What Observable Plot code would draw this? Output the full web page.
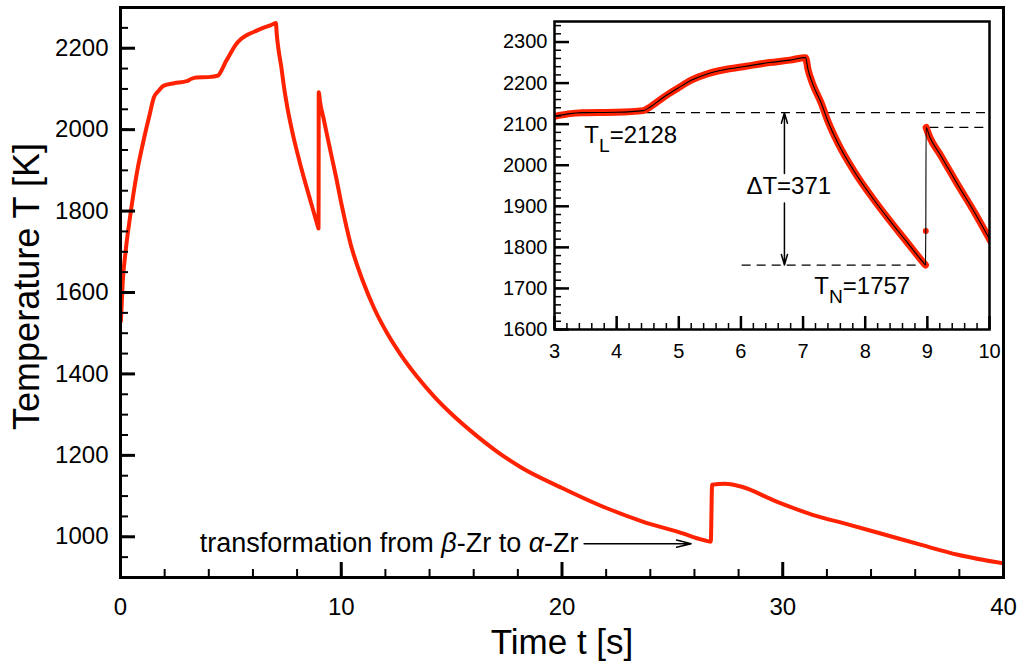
<!DOCTYPE html>
<html>
<head>
<meta charset="utf-8">
<script src="https://cdn.jsdelivr.net/npm/d3@7"></script>
<script src="https://cdn.jsdelivr.net/npm/@observablehq/plot@0.6"></script>
<style>
  html, body { margin: 0; padding: 0; background: #fff; }
  #chart { position: relative; width: 1017px; height: 662px; overflow: hidden; }
  #chart svg { position: absolute; left: 0; top: 0; }
</style>
</head>
<body>
<div id="chart"></div>
<script>
// Temperature–time profile of a levitated Zr sample: heating, melting plateau,
// undercooling, recalescence and the solid-state beta -> alpha transformation.
const timeS = [0.02, 0.10, 0.23, 0.45, 0.76, 1.06, 1.33, 1.51, 1.74, 1.96, 2.42,
  3.00, 3.22, 3.44, 3.99, 4.43, 4.54, 4.76, 4.98, 5.20, 5.47, 5.75, 6.08, 6.46, 6.79, 7.04,
  7.08, 7.15, 7.29, 7.40, 7.56, 7.84, 8.11, 8.38, 8.66, 8.93, 8.97, 8.975, 8.98,
  9.04, 9.21, 9.48, 9.76, 10.03, 10.42, 11.0, 11.5, 12.08, 12.7, 13.44, 14.2, 14.95,
  16.0, 17.04, 18.19, 20.0, 21.81, 23.62, 25.43, 26.41, 26.74, 26.80, 27.4, 28.06,
  29.7, 31.35, 32.99, 34.64, 36.28, 37.93, 39.98];
const tempK = [1530, 1625, 1700, 1792, 1899, 1977, 2039, 2079, 2096, 2108, 2114,
  2119, 2125, 2128, 2129, 2133, 2142, 2166, 2187, 2207, 2223, 2233, 2241, 2250, 2256, 2262,
  2233, 2200, 2152, 2107, 2054, 1981, 1922, 1868, 1815, 1764, 1757, 1840, 2092,
  2068, 2025, 1955, 1885, 1812, 1720, 1625, 1560, 1500, 1447, 1393, 1345, 1304,
  1254, 1210, 1169, 1120, 1075, 1038, 1009, 992, 988, 1128, 1130, 1124,
  1087, 1054, 1030, 1005, 980, 956, 935];

// Characteristic temperatures (K)
const T_L = 2128;        // liquidus
const T_N = 1757;        // nucleation
const T_R = 2092;        // peak after recalescence
const tNucleation = 8.97;

// Main axes ticks
const mainXMajor = [0, 10, 20, 30, 40];
const mainXMinor = d3.range(0, 41, 2);
const mainYMajor = [1000, 1200, 1400, 1600, 1800, 2000, 2200];
const mainYMinor = d3.range(900, 2301, 50);

// Inset axes ticks
const insetXMajor = [3, 4, 5, 6, 7, 8, 9, 10];
const insetXMinor = d3.range(30, 101, 2).map(d => d / 10);
const insetYMajor = [1600, 1700, 1800, 1900, 2000, 2100, 2200, 2300];
const insetYMinor = d3.range(1600, 2351, 20);

// Annotation anchors (data coordinates)
const transformNote = {t: 20.75, T: 983, text: "transformation from *β*-Zr to *α*-Zr"};
const transformArrow = {x1: 21.0, x2: 25.85, y: 983};
const deltaArrowT = 6.70;
const levelNotes = [
  {t: 3.48, T: 2074, text: `T_{L}=${T_L}`},
  {t: 7.18, T: 1704, text: `T_{N}=${T_N}`}
];
const deltaNote = {t: 6.77, T: 1948, text: `ΔT=${T_L - T_N}`};
const insetRules = [
  {y: T_L, x1: 4.48, x2: 10},
  {y: T_N, x1: 6.02, x2: 8.88},
  {y: T_R, x1: 9.04, x2: 10}
];
const deltaArrows = [
  {x: deltaArrowT, from: 1980, to: T_L},
  {x: deltaArrowT, from: 1908, to: T_N}
];

const FONT = "'Liberation Sans', Arial, Helvetica, sans-serif";
const RED = "#ff2200";

const rows = timeS.map((t, i) => ({t, T: tempK[i]}));
const insetRows = rows.filter(d => d.t >= 2.9 && d.t <= 10.2);
const midRecalescence = insetRows.filter(d => d.t > tNucleation && d.t < tNucleation + 0.01);
const bandRows = insetRows
  .filter(d => !midRecalescence.includes(d))
  .map(d => ({...d, phase: d.t <= tNucleation ? "undercooling" : "recalescence"}));

const fmt = d => String(d);

const main = Plot.plot({
  width: 1017, height: 662,
  marginLeft: 120, marginRight: 14, marginTop: 7, marginBottom: 85,
  style: {fontFamily: FONT, background: "transparent", color: "black"},
  x: {domain: [0, 40], axis: null},
  y: {domain: [900, 2300], axis: null},
  marks: [
    Plot.line(rows, {x: "t", y: "T", stroke: RED, strokeWidth: 4, curve: "monotone-x",
      strokeLinejoin: "round", clip: true}),
    Plot.axisX({ticks: mainXMinor, tickSize: 8, dy: -8, fill: "none", strokeWidth: 2}),
    Plot.axisX({ticks: mainXMajor, tickSize: 15, dy: -15, fill: "none", strokeWidth: 3}),
    Plot.axisX({ticks: mainXMajor, tickSize: 0, tickPadding: 20, fontSize: 24, tickFormat: fmt, label: null}),
    Plot.axisY({ticks: mainYMinor, tickSize: 8, dx: 8, fill: "none", strokeWidth: 2}),
    Plot.axisY({ticks: mainYMajor, tickSize: 15, dx: 15, fill: "none", strokeWidth: 3}),
    Plot.axisY({ticks: mainYMajor, tickSize: 0, tickPadding: 12, fontSize: 24, tickFormat: fmt, label: null}),
    Plot.frame({stroke: "black", strokeWidth: 3}),
    Plot.arrow([transformArrow], {x1: "x1", x2: "x2", y1: "y", y2: "y", stroke: "black",
      strokeWidth: 1.5, headLength: 15, headAngle: 28}),
    Plot.text([transformNote], {x: "t", y: "T", text: "text", textAnchor: "end", fontSize: 27}),
    Plot.text(["Time t [s]"], {frameAnchor: "bottom", textAnchor: "middle", lineAnchor: "middle",
      dy: 65, fontSize: 35}),
    Plot.text(["Temperature T [K]"], {frameAnchor: "left", textAnchor: "middle", lineAnchor: "middle",
      dx: -93, dy: -6, rotate: -90, fontSize: 36})
  ]
});

const inset = Plot.plot({
  width: 530, height: 372,
  marginLeft: 74, marginRight: 21, marginTop: 21, marginBottom: 43,
  style: {fontFamily: FONT, background: "transparent", color: "black"},
  x: {domain: [3, 10], axis: null},
  y: {domain: [1600, 2350], axis: null},
  marks: [
    Plot.frame({fill: "white"}),
    Plot.ruleY(insetRules, {y: "y", x1: "x1", x2: "x2", stroke: "black", strokeWidth: 1.3,
      strokeDasharray: "9,6"}),
    Plot.line(bandRows, {x: "t", y: "T", z: "phase", stroke: RED, strokeWidth: 7,
      curve: "monotone-x", strokeLinejoin: "round", strokeLinecap: "round", clip: true}),
    Plot.dot(midRecalescence, {x: "t", y: "T", r: 3, fill: RED}),
    Plot.line(insetRows, {x: "t", y: "T", stroke: "black", strokeWidth: 1.1,
      curve: "monotone-x", clip: true}),
    Plot.arrow(deltaArrows, {x1: "x", x2: "x", y1: "from", y2: "to", stroke: "black",
      strokeWidth: 1.5, headLength: 11, headAngle: 32}),
    Plot.text(levelNotes, {x: "t", y: "T", text: "text", textAnchor: "start", fontSize: 24}),
    Plot.text([deltaNote], {x: "t", y: "T", text: "text", textAnchor: "middle", fontSize: 24}),
    Plot.axisX({ticks: insetXMinor, tickSize: 6, dy: -6, fill: "none", strokeWidth: 1.5}),
    Plot.axisX({ticks: insetXMajor, tickSize: 13, dy: -13, fill: "none", strokeWidth: 2.5}),
    Plot.axisX({ticks: insetXMajor, tickSize: 0, tickPadding: 14, fontSize: 20, tickFormat: fmt, label: null}),
    Plot.axisY({ticks: insetYMinor, tickSize: 7, dx: 7, fill: "none", strokeWidth: 1.5}),
    Plot.axisY({ticks: insetYMajor, tickSize: 15, dx: 15, fill: "none", strokeWidth: 2.5}),
    Plot.axisY({ticks: insetYMajor, tickSize: 0, tickPadding: 7, fontSize: 20, tickFormat: fmt, label: null}),
    Plot.frame({stroke: "black", strokeWidth: 2.5})
  ]
});
inset.style.left = "480px";
inset.style.top = "0px";

// Turn "_{x}" into subscripts and "*x*" into italics inside SVG text.
function richText(svg) {
  const NS = "http://www.w3.org/2000/svg";
  svg.querySelectorAll("text").forEach(el => {
    const s = el.textContent;
    if (!/_\{|\*/.test(s)) return;
    el.textContent = "";
    const re = /_\{([^}]*)\}|\*([^*]*)\*|([^_*]+)/g;
    let m, lowered = false;
    while ((m = re.exec(s))) {
      const ts = document.createElementNS(NS, "tspan");
      if (m[1] != null) {
        ts.textContent = m[1];
        ts.setAttribute("font-size", "0.8em");
        ts.setAttribute("dy", "9");
        lowered = true;
      } else {
        ts.textContent = m[2] != null ? m[2] : m[3];
        if (m[2] != null) ts.setAttribute("font-style", "italic");
        if (lowered) { ts.setAttribute("dy", "-9"); lowered = false; }
      }
      el.appendChild(ts);
    }
  });
}
richText(main);
richText(inset);

const chart = document.getElementById("chart");
chart.appendChild(main);
chart.appendChild(inset);
</script>
</body>
</html>
